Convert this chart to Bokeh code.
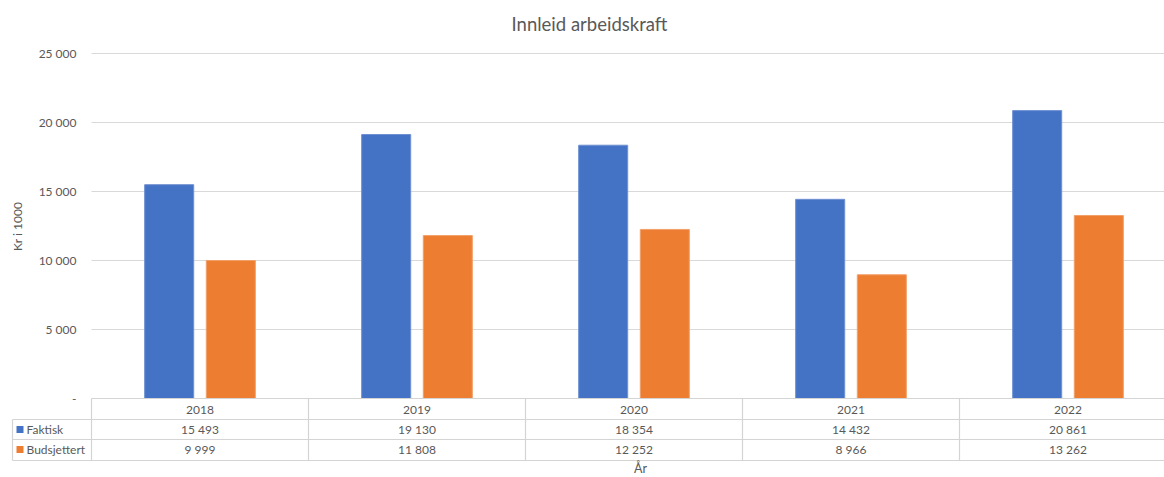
from bokeh.plotting import figure
from bokeh.models import Range1d
from bokeh.core.properties import value
from bokeh.embed import file_html
from bokeh.resources import INLINE
import math

# --- data -------------------------------------------------------------
years = ["2018", "2019", "2020", "2021", "2022"]
faktisk = [15493, 19130, 18354, 14432, 20861]
budsjettert = [9999, 11808, 12252, 8966, 13262]
series_names = ["Faktisk", "Budsjettert"]
y_ticks = [0, 5000, 10000, 15000, 20000, 25000]
title_text = "Innleid arbeidskraft"
y_label = "Kr i 1000"
x_label = "År"

# --- layout / style ---------------------------------------------------
W, H = 1164, 477
PLOT_LEFT = 91          # left edge of the plot area (px)
CAT_W = 217             # width of one category (px)
BASE_Y = 398            # pixel row of the value 0
PX_PER_UNIT = 13.8 / 1000.0
FONT = value("Lato")
TEXT_COLOR = "#595959"
GRID_COLOR = "#d9d9d9"
TABLE_COLOR = "#d4d4d4"
BLUE = "#4472c4"
ORANGE = "#ed7d31"


def cx(px):
    """horizontal pixel -> category units"""
    return (px - PLOT_LEFT) / CAT_W


def vy(py):
    """vertical pixel -> value units"""
    return (BASE_Y - py) / PX_PER_UNIT


def fmt(v):
    if v == 0:
        return "-"
    return f"{v:,}".replace(",", " ")


p = figure(width=W, height=H, output_backend="svg", toolbar_location=None,
           x_range=Range1d(cx(0), cx(W)), y_range=Range1d(vy(H), vy(0)),
           min_border=0, x_axis_type=None, y_axis_type=None,
           outline_line_color=None, background_fill_color="white",
           border_fill_color="white")
p.grid.visible = False

n = len(years)
x_end = cx(W)

# horizontal gridlines (value 0 is the table's top rule)
grid_vals = [t for t in y_ticks if t > 0]
p.segment(x0=[0] * len(grid_vals), x1=[x_end] * len(grid_vals),
          y0=grid_vals, y1=grid_vals, line_color=GRID_COLOR, line_width=1)

# bars
offset = 0.142
bw = 0.226
cats = [i + 0.5 for i in range(n)]
p.vbar(x=[c - offset for c in cats], top=faktisk, bottom=0, width=bw,
       fill_color=BLUE, line_color="#6f91d2", line_width=1)
p.vbar(x=[c + offset for c in cats], top=budsjettert, bottom=0, width=bw,
       fill_color=ORANGE, line_color="#f2a06a", line_width=1)

# y tick labels
p.text(x=[cx(76)] * len(y_ticks), y=y_ticks, text=[fmt(t) for t in y_ticks],
       text_align="right", text_baseline="middle", text_font=FONT,
       text_font_size="12px", text_color=TEXT_COLOR)

# data table rules
row_lines = [419, 439, 460]
legend_left = cx(12)
p.segment(x0=[0] + [legend_left] * len(row_lines),
          x1=[x_end] * (len(row_lines) + 1),
          y0=[0] + [vy(r) for r in row_lines],
          y1=[0] + [vy(r) for r in row_lines],
          line_color=TABLE_COLOR, line_width=1.2)
p.segment(x0=list(range(n)), x1=list(range(n)),
          y0=[0] * n, y1=[vy(460)] * n, line_color=TABLE_COLOR, line_width=1.2)
p.segment(x0=[legend_left], x1=[legend_left], y0=[vy(419)], y1=[vy(460)],
          line_color=TABLE_COLOR, line_width=1.2)

# table texts
row_centers = [409, 429, 449]
p.text(x=cats, y=[vy(row_centers[0])] * n, text=years, text_align="center",
       text_baseline="middle", text_font=FONT, text_font_size="12px",
       text_color=TEXT_COLOR)
for row, vals in ((1, faktisk), (2, budsjettert)):
    p.text(x=cats, y=[vy(row_centers[row])] * n, text=[fmt(v) for v in vals],
           text_align="center", text_baseline="middle", text_font=FONT,
           text_font_size="12px", text_color=TEXT_COLOR)

# legend keys inside the table
p.scatter(x=[cx(19.5)] * 2, y=[vy(row_centers[1]), vy(row_centers[2])],
          marker="square", size=7, fill_color=[BLUE, ORANGE], line_color=None)
p.text(x=[cx(26)] * 2, y=[vy(row_centers[1]), vy(row_centers[2])],
       text=series_names, text_align="left", text_baseline="middle",
       text_font=FONT, text_font_size="12px", text_color=TEXT_COLOR)

# titles
p.text(x=[cx(589)], y=[vy(23)], text=[title_text], text_align="center",
       text_baseline="middle", text_font=FONT, text_font_size="18.5px",
       text_color=TEXT_COLOR)
p.text(x=[cx(17)], y=[vy(226)], text=[y_label], angle=math.pi / 2,
       text_align="center", text_baseline="middle", text_font=FONT,
       text_font_size="12px", text_color=TEXT_COLOR)
p.text(x=[cx(640)], y=[vy(475)], text=[x_label], text_align="center",
       text_baseline="bottom", text_font=FONT, text_font_size="12.5px",
       text_color=TEXT_COLOR)

open("out.html", "w").write(file_html(p, INLINE))
